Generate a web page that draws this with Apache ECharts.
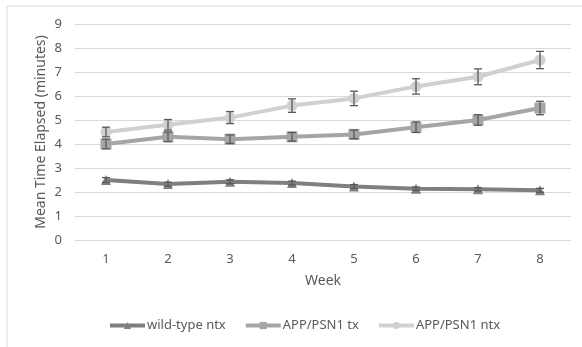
<!DOCTYPE html>
<html>
<head>
<meta charset="utf-8">
<script src="https://cdn.jsdelivr.net/npm/echarts@6/dist/echarts.min.js"></script>
<style>
  html, body { margin: 0; padding: 0; background: #fff; }
  #chart { width: 582px; height: 347px; }
</style>
</head>
<body>
<div id="chart"></div>
<script>
const weeks = ['1', '2', '3', '4', '5', '6', '7', '8'];
const seriesNames = ['wild-type ntx', 'APP/PSN1 tx', 'APP/PSN1 ntx'];
const wildType = [2.5, 2.33, 2.43, 2.37, 2.23, 2.14, 2.11, 2.07];
const appTx = [4.0, 4.3, 4.2, 4.3, 4.4, 4.7, 5.0, 5.5];
const appNtx = [4.5, 4.8, 5.1, 5.6, 5.9, 6.4, 6.8, 7.5];
const wildTypeErr = [0.1, 0.08, 0.08, 0.08, 0.08, 0.07, 0.07, 0.08];
const appTxErr = [0.2, 0.2, 0.18, 0.18, 0.18, 0.22, 0.22, 0.28];
const appNtxErr = [0.2, 0.22, 0.25, 0.28, 0.3, 0.32, 0.33, 0.36];

const font = 'Noto Sans';
const colors = ['#7f7f7f', '#a5a5a5', '#d0d0d0'];
let chart = echarts.init(document.getElementById('chart'));

// error bars drawn through the axes
function errorSeries(vals, errs) {
  let data = vals.map((v, i) => [i, v - errs[i], v + errs[i]]);
  return {
    type: 'custom',
    z: 5,
    silent: true,
    renderItem: function (params, api) {
      let x = api.value(0);
      let lo = api.coord([x, api.value(1)]);
      let hi = api.coord([x, api.value(2)]);
      let w = 4;
      let style = { stroke: '#595959', lineWidth: 1.3 };
      return {
        type: 'group',
        children: [
          { type: 'line', shape: { x1: lo[0], y1: lo[1], x2: hi[0], y2: hi[1] }, style: style },
          { type: 'line', shape: { x1: lo[0] - w, y1: lo[1], x2: lo[0] + w, y2: lo[1] }, style: style },
          { type: 'line', shape: { x1: hi[0] - w, y1: hi[1], x2: hi[0] + w, y2: hi[1] }, style: style }
        ]
      };
    },
    data: data
  };
}

function lineSeries(name, vals, color, symbol, size) {
  return {
    name: name,
    type: 'line',
    data: vals,
    symbol: symbol,
    symbolSize: size,
    z: 3,
    lineStyle: { color: color, width: 4 },
    itemStyle: { color: color },
    emphasis: { disabled: true }
  };
}

chart.setOption({
  animation: false,
  graphic: [{
    type: 'rect',
    shape: { x: 7, y: 6, width: 620, height: 400 },
    style: { fill: 'none', stroke: '#d9d9d9', lineWidth: 1 },
    silent: true
  }],
  grid: { left: 75, right: 11, top: 24, bottom: 107 },
  legend: {
    data: seriesNames.map((n, i) => ({ name: n, lineStyle: { color: colors[i], width: 4 } })),
    bottom: 10,
    left: 103,
    itemWidth: 35,
    itemHeight: 9,
    itemGap: 18,
    textStyle: { fontFamily: font, fontSize: 13, color: '#595959', padding: [0, 0, 0, -3] }
  },
  xAxis: {
    type: 'category',
    data: weeks,
    name: 'Week',
    nameLocation: 'middle',
    nameGap: 34,
    nameTextStyle: { fontFamily: font, fontSize: 14, color: '#595959' },
    axisLine: { show: false },
    axisTick: { show: false },
    axisLabel: { fontFamily: font, fontSize: 13, color: '#595959', margin: 13 }
  },
  yAxis: {
    type: 'value',
    min: 0,
    max: 9,
    interval: 1,
    name: 'Mean Time Elapsed (minutes)',
    nameLocation: 'middle',
    nameGap: 27,
    nameMoveOverlap: false,
    nameTextStyle: { fontFamily: font, fontSize: 14, color: '#595959' },
    axisLabel: { fontFamily: font, fontSize: 13, color: '#595959', margin: 13 },
    splitLine: { lineStyle: { color: '#d9d9d9', width: 1 } }
  },
  series: [
    lineSeries(seriesNames[0], wildType, colors[0], 'triangle', 10),
    lineSeries(seriesNames[1], appTx, colors[1], 'rect', 11),
    lineSeries(seriesNames[2], appNtx, colors[2], 'circle', 11),
    errorSeries(wildType, wildTypeErr),
    errorSeries(appTx, appTxErr),
    errorSeries(appNtx, appNtxErr)
  ]
});
</script>
</body>
</html>
